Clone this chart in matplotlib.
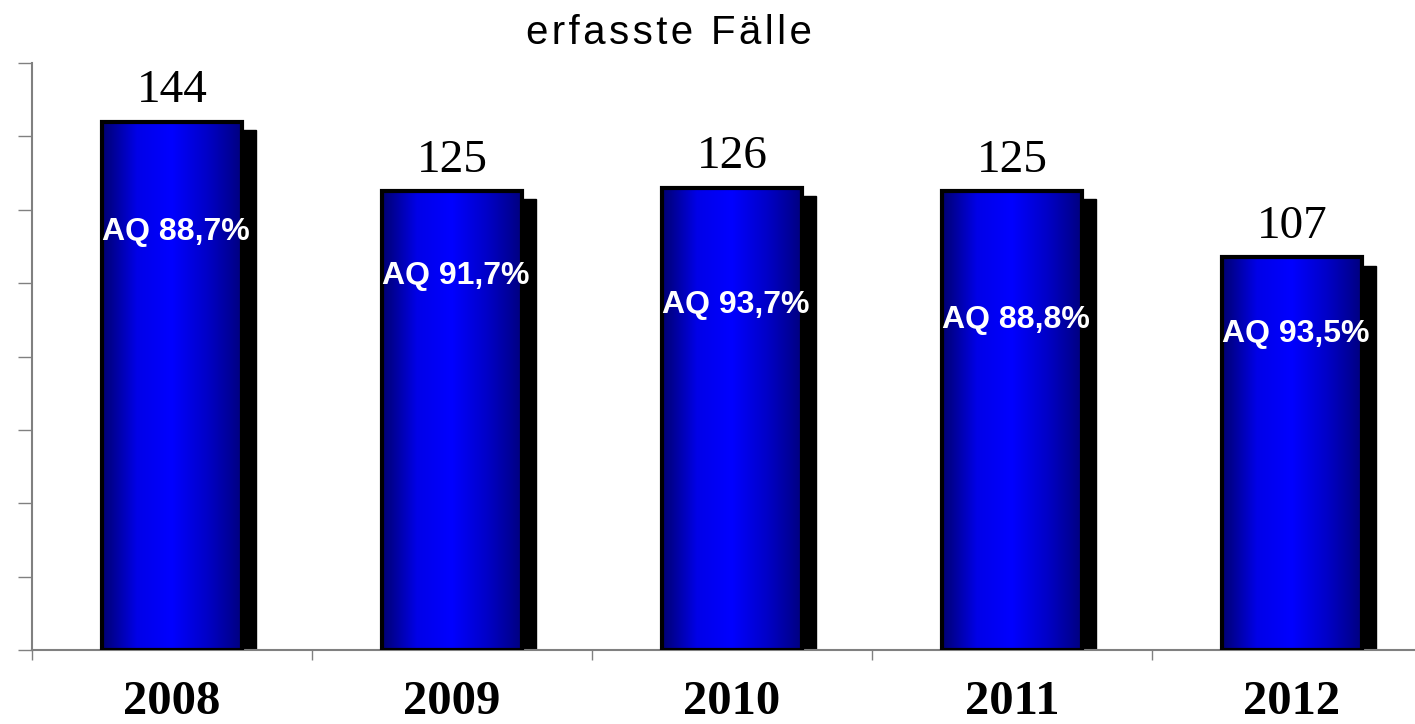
import matplotlib
matplotlib.use('Agg')
import matplotlib.pyplot as plt
import numpy as np
from matplotlib.colors import LinearSegmentedColormap
from matplotlib.patches import Rectangle

# Data
years = ['2008', '2009', '2010', '2011', '2012']
cases = [144, 125, 126, 125, 107]
aq_labels = ['AQ 88,7%', 'AQ 91,7%', 'AQ 93,7%', 'AQ 88,8%', 'AQ 93,5%']
aq_label_y = [114, 102, 94, 90, 86]
title = 'erfasste Fälle'

fig = plt.figure(figsize=[14.15, 7.24], dpi=100)
ax = fig.add_axes([32 / 1415, 74 / 724, 1400 / 1415, 587 / 724])

x = np.arange(len(years))
width = 0.5
grad = LinearSegmentedColormap.from_list('bar', ['#000070', '#0000e8', '#0000ff', '#0000c8', '#000080'])
gradient = np.linspace(0, 1, 256).reshape(1, -1)

# shadow behind each bar (offset right and down)
for xi, v in zip(x, cases):
    ax.add_patch(Rectangle((xi - width / 2 + 0.05, 0), width, v - 2.2, color='black', zorder=1))

bars = ax.bar(x, cases, width=width, facecolor='none', edgecolor='black', linewidth=3, zorder=3)
for b in bars:
    x0, w, h = b.get_x(), b.get_width(), b.get_height()
    im = ax.imshow(gradient, extent=(x0, x0 + w, 0, h), aspect='auto', cmap=grad, zorder=2)
    im.set_clip_path(b)

for xi, v, lab, ly in zip(x, cases, aq_labels, aq_label_y):
    ax.text(xi, v + 5.4, str(v), ha='center', va='baseline', fontsize=34, family='Liberation Serif')
    ax.text(xi + 0.015, ly, lab, ha='center', va='center', fontsize=23, fontweight='bold',
            color='white', family='Liberation Sans', zorder=4)
    ax.text(xi, -17.4, years[xi], ha='center', va='baseline', fontsize=35, fontweight='bold',
            family='Liberation Serif')

ax.set_xlim(-0.5, 4.5)
ax.set_ylim(0, 160)
ax.set_xticks(np.arange(-0.5, 5, 1))
ax.set_yticks(np.arange(0, 161, 20))
ax.set_xticklabels([])
ax.set_yticklabels([])
ax.tick_params(axis='y', direction='out', length=10, color='#808080', width=1)
ax.tick_params(axis='x', direction='out', length=7, color='#808080', width=1)
for s in ['top', 'right']:
    ax.spines[s].set_visible(False)
for s in ['left', 'bottom']:
    ax.spines[s].set_color('#808080')
    ax.spines[s].set_linewidth(1.5)

# title is letter-spaced in the original
fig.text(669 / 1415, 1 - 33 / 724, '\u200a'.join(title), ha='center', va='center', fontsize=29,
         family=['Liberation Sans', 'DejaVu Sans'])

fig.savefig('out.png', dpi=100)
